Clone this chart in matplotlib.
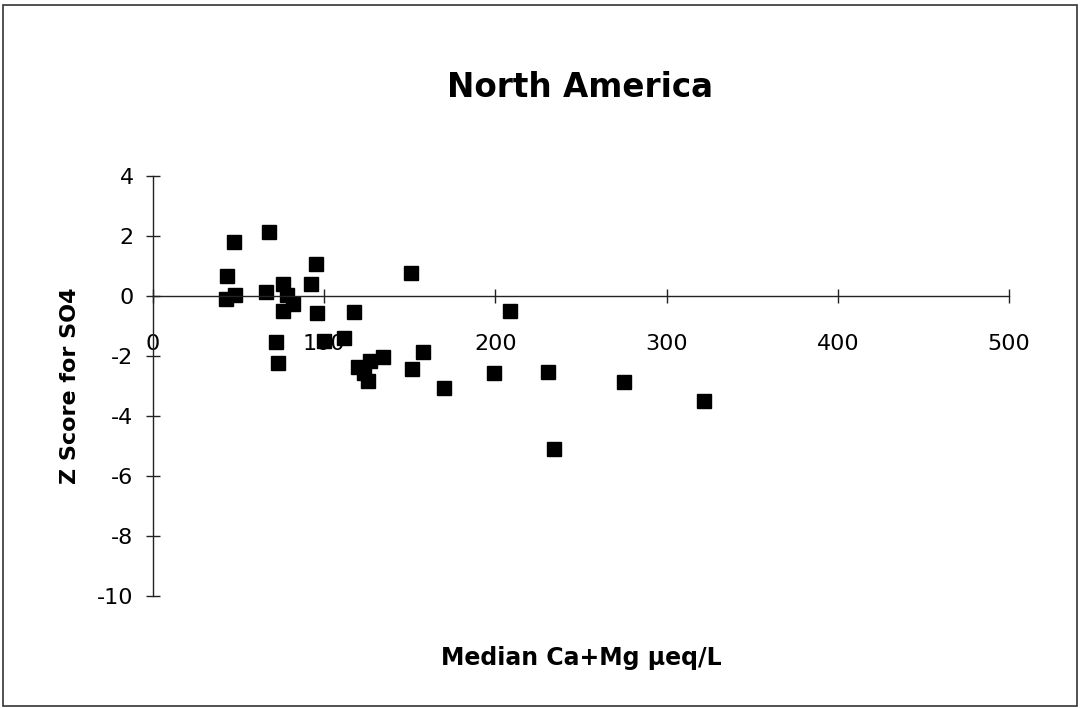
import matplotlib
matplotlib.use("Agg")
from matplotlib import pyplot as plt
from matplotlib.patches import Rectangle

plt.rcParams['axes.unicode_minus'] = False

# Median Ca+Mg (ueq/L) and SO4 z-scores per site
ca_mg = [47, 68, 43, 42.6, 47.7, 66, 76, 78, 82, 76, 92, 95, 96, 117.6,
         72, 73, 100, 111.6, 120, 126.8, 134.5, 123.4, 125.8, 150.7, 157.9,
         151.5, 208.5, 170, 199.4, 230.9, 234.4, 275.3, 322]
z_so4 = [1.8, 2.15, 0.68, -0.11, 0.03, 0.12, 0.4, 0.03, -0.27, -0.5, 0.4,
         1.07, -0.56, -0.54, -1.54, -2.24, -1.5, -1.39, -2.38, -2.17, -2.04,
         -2.58, -2.83, 0.78, -1.88, -2.43, -0.5, -3.08, -2.58, -2.54, -5.11,
         -2.88, -3.49]

x_ticks = [0, 100, 200, 300, 400, 500]
y_ticks = [-10, -8, -6, -4, -2, 0, 2, 4]

fig = plt.figure(figsize=(10.8, 7.08), dpi=100)
ax = fig.add_axes([0.1417, 0.1582, 0.7926, 0.5932])

ax.plot(ca_mg, z_so4, 's', color='black', markersize=10, clip_on=False)

ax.set_xlim(0, 500)
ax.set_ylim(-10, 4)
ax.set_xticks(x_ticks)
ax.set_yticks(y_ticks)

# axes cross at the origin
ax.spines['left'].set_position(('data', 0))
ax.spines['bottom'].set_position(('data', 0))
ax.spines['top'].set_visible(False)
ax.spines['right'].set_visible(False)
for s in ('left', 'bottom'):
    ax.spines[s].set_linewidth(1.0)
    ax.spines[s].set_color('#222222')

ax.tick_params(axis='both', direction='inout', length=10, width=1,
               color='#222222', labelsize=16)
ax.tick_params(axis='x', pad=22)
ax.tick_params(axis='y', pad=9)

ax.set_xlabel('Median Ca+Mg µeq/L', fontsize=17, fontweight='bold')
ax.set_ylabel('Z Score for SO4', fontsize=16, fontweight='bold')
ax.xaxis.set_label_coords(0.5, -0.12)
ax.yaxis.set_label_coords(-0.085, 0.5)

fig.text(0.537, 0.876, 'North America', ha='center', va='center',
         fontsize=23.5, fontweight='bold')

# thin frame around the whole chart
fig.patches.append(Rectangle((0.003, 0.003), 0.994, 0.990,
                             transform=fig.transFigure, fill=False,
                             edgecolor='#333333', linewidth=1.2))

fig.savefig('out.png', dpi=100)
